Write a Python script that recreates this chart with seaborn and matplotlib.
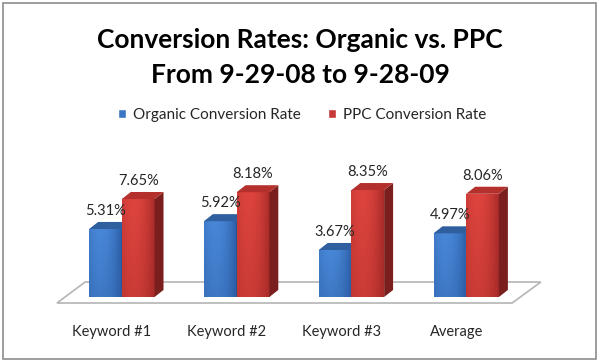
import numpy as np
import pandas as pd
import matplotlib
matplotlib.use("Agg")
import matplotlib.pyplot as plt
import matplotlib.transforms as mtransforms
from matplotlib.patches import Polygon, Rectangle
import seaborn as sns

# данные с картинки
categories = ["Keyword #1", "Keyword #2", "Keyword #3", "Average"]
organic = [5.31, 5.92, 3.67, 4.97]
ppc = [7.65, 8.18, 8.35, 8.06]
series = ["Organic Conversion Rate", "PPC Conversion Rate"]

df = pd.DataFrame({
    "category": categories * 2,
    "rate": organic + ppc,
    "series": [series[0]] * 4 + [series[1]] * 4,
})

sns.set_theme(style="white")
plt.rcParams["font.family"] = ["Lato", "DejaVu Sans"]

fig = plt.figure(figsize=(6, 3.62), dpi=100)
ax = fig.add_axes([40 / 600, 52 / 362, 520 / 600, 160 / 362])

colors = {"Organic Conversion Rate": "#3a76c4", "PPC Conversion Rate": "#c73a37"}
sns.barplot(data=df, x="category", y="rate", hue="series", palette=colors,
            width=0.57, gap=0, ax=ax, legend=True, saturation=1)

xlim = (-0.713, 3.817)
ylim = (-1.016, 11.48)

handles, labels = ax.get_legend_handles_labels()
ax.legend(handles, labels, loc="center", bbox_to_anchor=(302 / 600, 1 - 115 / 362),
          bbox_transform=fig.transFigure, ncol=2, frameon=False, fontsize=11,
          handlelength=0.5, handleheight=0.5, handletextpad=0.45,
          columnspacing=1.8, labelcolor="#262626")

# пол (3D подложка)
n = len(categories)
floor = Polygon([(-0.565, -0.47), (n - 1 + 0.4, -0.47), (n - 1 + 0.65, 1.17), (-0.32, 1.17)],
                closed=True, facecolor="white", edgecolor="#b5b5b5", lw=1.2, zorder=1)
ax.add_patch(floor)

dx, dy = 0.078, 0.55
shade = {
    "#3a76c4": (np.array([40, 88, 158]), np.array([72, 135, 215]), "#2f5f9f", "#23487a"),
    "#c73a37": (np.array([160, 40, 38]), np.array([222, 68, 62]), "#b3302d", "#7a1f1e"),
}

bars = [p for p in ax.patches if isinstance(p, Rectangle) and p.get_height() > 0]
for p in bars:
    x, w, h = p.get_x(), p.get_width(), p.get_height()
    fc = matplotlib.colors.to_hex(p.get_facecolor())
    dark, light, top_c, side_c = shade[fc]
    z = 3 if fc == "#c73a37" else 2
    p.set_zorder(z)
    p.set_facecolor("none")
    p.set_edgecolor("none")
    # градиент лицевой грани
    t = np.linspace(0, 1, 40)
    s = np.linspace(0, 1, 30)
    hor = np.clip(1 - ((t - 0.35) / 0.7) ** 2, 0, 1)
    ver = 0.7 + 0.3 * s
    f = hor[None, :] * ver[:, None]
    img = dark[None, None, :] + (light - dark)[None, None, :] * f[:, :, None]
    im = ax.imshow(img.astype(np.uint8), extent=[x, x + w, 0, h], origin="lower",
                   aspect="auto", zorder=z, interpolation="bilinear")
    im.set_clip_path(p)
    ax.add_patch(Polygon([(x + w, 0), (x + w + dx, dy), (x + w + dx, h + dy), (x + w, h)],
                         closed=True, facecolor=side_c, edgecolor="none", zorder=z))
    ax.add_patch(Polygon([(x, h), (x + w, h), (x + w + dx, h + dy), (x + dx, h + dy)],
                         closed=True, facecolor=top_c, edgecolor="none", zorder=z))
    ax.text(x + w / 2, h + dy + 0.3, f"{h:.2f}%", ha="center", va="bottom",
            fontsize=10.5, color="#262626", zorder=5)

ax.set_xlim(*xlim)
ax.set_ylim(*ylim)
ax.set_xlabel("")
ax.set_ylabel("")
ax.set_yticks([])
ax.set_xticks(range(n))
ax.set_xticklabels(categories, fontsize=10.5, color="#262626")
ax.tick_params(axis="x", length=0, pad=11)
shift = mtransforms.ScaledTranslation(-10 / 100, 0, fig.dpi_scale_trans)
for lab in ax.get_xticklabels():
    lab.set_transform(lab.get_transform() + shift)
for sp in ax.spines.values():
    sp.set_visible(False)
ax.patch.set_alpha(0)

fig.text(0.5, 1 - 40 / 362, "Conversion Rates: Organic vs. PPC", ha="center", va="center",
         fontsize=19, fontweight="bold", color="black")
fig.text(0.5, 1 - 75 / 362, "From 9-29-08 to 9-28-09", ha="center", va="center",
         fontsize=19, fontweight="bold", color="black")

fig.patches.append(Rectangle((3 / 600, 3 / 362), 593 / 600, 356 / 362, transform=fig.transFigure,
                             fill=False, edgecolor="#8c8c8c", lw=1.2, zorder=0))

fig.savefig("out.png", dpi=100)
